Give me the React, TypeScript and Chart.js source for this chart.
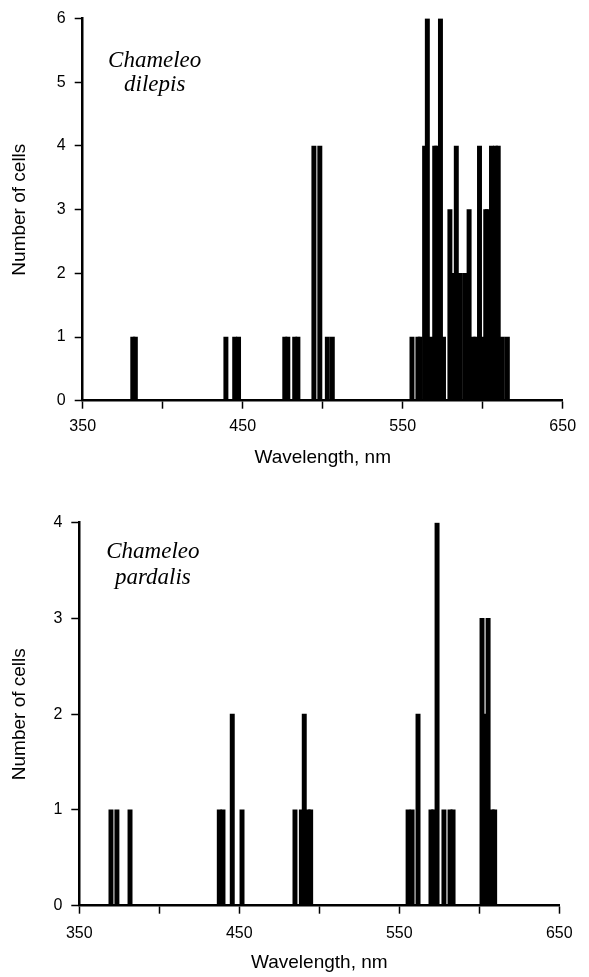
import React, { useEffect, useRef } from "react";
import { Chart, registerables } from "chart.js";

Chart.register(...registerables);

// ---------- data ----------
const xTickValues = [350, 400, 450, 500, 550, 600, 650];
const xLabelledTicks = [350, 450, 550, 650];

// Chameleo dilepis: wavelength of each bar (nm) and number of cells
const dilepisWavelength = [
  381.3, 382.9, 439.5, 445.0, 447.4, 476.3, 478.2, 482.5, 484.5, 494.5, 498.2,
  502.9, 506.0, 555.8, 559.5, 561.0, 563.7, 565.4, 567.6, 570.0, 571.3, 573.6,
  575.5, 579.5, 581.9, 583.5, 586.0, 588.9, 591.5, 594.0, 595.7, 598.0, 600.0,
  601.9, 603.0, 605.5, 608.0, 609.7, 612.3, 615.4,
];
const dilepisCells = [
  1, 1, 1, 1, 1, 1, 1, 1, 1, 4, 4,
  1, 1, 1, 1, 1, 4, 6, 1, 4, 4, 6,
  1, 3, 2, 4, 2, 2, 3, 1, 1, 4, 1,
  3, 3, 4, 4, 4, 1, 1,
];
const dilepisYTicks = [0, 1, 2, 3, 4, 5, 6];
const dilepisName = ["Chameleo", "dilepis"];

// Chameleo pardalis
const pardalisWavelength = [
  369.8, 373.5, 381.7, 437.5, 439.8, 445.6, 451.7, 484.8, 488.8, 490.6, 493.0,
  494.6, 555.5, 558.0, 561.7, 569.8, 571.5, 573.6, 577.9, 581.7, 583.6, 601.7,
  603.5, 605.5, 608.0, 609.6,
];
const pardalisCells = [
  1, 1, 1, 1, 1, 2, 1, 1, 1, 2, 1,
  1, 1, 1, 2, 1, 1, 4, 1, 1, 1, 3,
  2, 3, 1, 1,
];
const pardalisYTicks = [0, 1, 2, 3, 4];
const pardalisName = ["Chameleo", "pardalis"];

const xTitle = "Wavelength, nm";
const yTitle = "Number of cells";

// ---------- styling / layout ----------
const SANS = "'Liberation Sans', Arial, sans-serif";
const SERIF = "'Liberation Serif', 'Times New Roman', serif";

type Layout = {
  height: number;
  padTop: number;
  padRight: number;
  yAxisWidth: number;
  xAxisHeight: number;
  xTickPad: number;
  xTitlePadBottom: number;
  nameX: number;
  nameY: number[];
};

function makeConfig(
  wl: number[],
  cells: number[],
  yTicks: number[],
  name: string[],
  L: Layout
): any {
  const speciesPlugin = {
    id: "species",
    afterDraw(chart: any) {
      const { ctx } = chart;
      const xs = chart.scales.x;
      const ys = chart.scales.y;
      ctx.save();
      ctx.fillStyle = "#000";
      ctx.font = `italic 23px ${SERIF}`;
      ctx.textAlign = "center";
      ctx.textBaseline = "alphabetic";
      name.forEach((line, i) => {
        ctx.fillText(line, xs.getPixelForValue(L.nameX), ys.getPixelForValue(L.nameY[i]));
      });
      ctx.restore();
    },
  };

  return {
    type: "bar",
    data: {
      datasets: [
        {
          data: wl.map((x, i) => ({ x, y: cells[i] })),
          backgroundColor: "#000",
          borderWidth: 0,
          barThickness: 4.3,
        },
      ],
    },
    options: {
      animation: false,
      responsive: false,
      maintainAspectRatio: false,
      layout: { padding: { left: 0, right: L.padRight, top: L.padTop, bottom: 0 } },
      plugins: { legend: { display: false }, tooltip: { enabled: false } },
      scales: {
        x: {
          type: "linear",
          min: xTickValues[0],
          max: xTickValues[xTickValues.length - 1],
          offset: false,
          afterBuildTicks: (s: any) => {
            s.ticks = xTickValues.map((v) => ({ value: v }));
          },
          afterFit: (s: any) => {
            s.height = L.xAxisHeight;
          },
          grid: {
            display: true,
            offset: false,
            drawOnChartArea: false,
            drawTicks: true,
            tickLength: 8,
            tickWidth: 1.5,
            tickColor: "#000",
          },
          border: { display: true, color: "#000", width: 2.5 },
          ticks: {
            autoSkip: false,
            maxRotation: 0,
            color: "#000",
            padding: L.xTickPad,
            font: { family: SANS, size: 16 },
            callback: (v: any) => (xLabelledTicks.includes(Number(v)) ? String(v) : ""),
          },
          title: {
            display: true,
            text: xTitle,
            color: "#000",
            font: { family: SANS, size: 19 },
            padding: { top: 0, bottom: L.xTitlePadBottom },
          },
        },
        y: {
          type: "linear",
          min: yTicks[0],
          max: yTicks[yTicks.length - 1],
          afterBuildTicks: (s: any) => {
            s.ticks = yTicks.map((v) => ({ value: v }));
          },
          afterFit: (s: any) => {
            s.width = L.yAxisWidth;
          },
          grid: {
            display: true,
            drawOnChartArea: false,
            drawTicks: true,
            tickLength: 8,
            tickWidth: 1.5,
            tickColor: "#000",
          },
          border: { display: true, color: "#000", width: 2.5 },
          ticks: {
            color: "#000",
            padding: 9,
            font: { family: SANS, size: 16 },
          },
          title: {
            display: true,
            text: yTitle,
            color: "#000",
            font: { family: SANS, size: 19 },
            padding: { top: 8, bottom: 0 },
          },
        },
      },
    },
    plugins: [speciesPlugin],
  };
}

const topLayout: Layout = {
  height: 485,
  padTop: 16.7,
  padRight: 26.3,
  yAxisWidth: 82.7,
  xAxisHeight: 84.3,
  xTickPad: 8,
  xTitlePadBottom: 15.6,
  nameX: 395,
  nameY: [5.245, 4.87],
};

const bottomLayout: Layout = {
  height: 492,
  padTop: 37.7,
  padRight: 29.7,
  yAxisWidth: 79.3,
  xAxisHeight: 71.3,
  xTickPad: 10.5,
  xTitlePadBottom: 2.6,
  nameX: 396,
  nameY: [3.628, 3.36],
};

export default function App() {
  const topRef = useRef<HTMLCanvasElement | null>(null);
  const botRef = useRef<HTMLCanvasElement | null>(null);

  useEffect(() => {
    const c1 = new Chart(
      topRef.current as HTMLCanvasElement,
      makeConfig(dilepisWavelength, dilepisCells, dilepisYTicks, dilepisName, topLayout)
    );
    const c2 = new Chart(
      botRef.current as HTMLCanvasElement,
      makeConfig(pardalisWavelength, pardalisCells, pardalisYTicks, pardalisName, bottomLayout)
    );
    return () => {
      c1.destroy();
      c2.destroy();
    };
  }, []);

  return (
    <div style={{ position: "absolute", left: 0, top: 0, width: 589, height: 977, background: "#fff" }}>
      <canvas
        ref={topRef}
        width={589}
        height={topLayout.height}
        style={{ display: "block", width: 589, height: topLayout.height }}
      />
      <canvas
        ref={botRef}
        width={589}
        height={bottomLayout.height}
        style={{ display: "block", width: 589, height: bottomLayout.height }}
      />
    </div>
  );
}
